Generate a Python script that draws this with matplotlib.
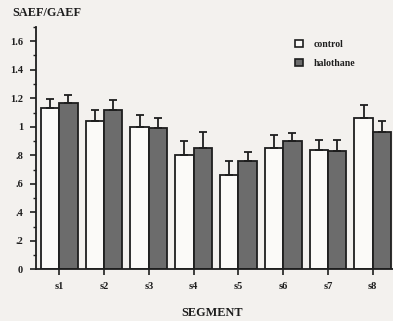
import numpy as np
import matplotlib
matplotlib.use("Agg")
import matplotlib.pyplot as plt
from matplotlib.patches import Rectangle
from matplotlib.ticker import MultipleLocator

segments = ["s1", "s2", "s3", "s4", "s5", "s6", "s7", "s8"]
control = [1.13, 1.04, 1.00, 0.80, 0.66, 0.85, 0.84, 1.06]
control_err = [0.065, 0.08, 0.08, 0.10, 0.10, 0.09, 0.07, 0.09]
halothane = [1.17, 1.115, 0.99, 0.85, 0.76, 0.90, 0.83, 0.96]
halothane_err = [0.05, 0.07, 0.07, 0.11, 0.06, 0.055, 0.08, 0.08]
ytick_vals = [0, 0.2, 0.4, 0.6, 0.8, 1.0, 1.2, 1.4, 1.6]
ytick_labels = ["0", ".2", ".4", ".6", ".8", "1", "1.2", "1.4", "1.6"]

bg = "#f3f1ee"
ink = "#1e1e1e"
dark_fill = "#6c6c6c"
font = dict(family="Liberation Serif", weight="bold")

fig = plt.figure(figsize=(3.93, 3.21), dpi=100, facecolor=bg)
ax = fig.add_axes([0.0908, 0.161, 1.0 - 0.0908, 0.916 - 0.161])
ax.set_facecolor(bg)

x = np.arange(len(segments))
w = 0.41
ekw = dict(ecolor=ink, elinewidth=1.3, capsize=2.8, capthick=1.3)
ax.bar(x - w / 2, control, width=w, color="#fbfaf8", edgecolor=ink, linewidth=1.3,
       yerr=[np.zeros(len(x)), control_err], error_kw=ekw, zorder=2)
ax.bar(x + w / 2, halothane, width=w, color=dark_fill, edgecolor=ink, linewidth=1.3,
       yerr=[np.zeros(len(x)), halothane_err], error_kw=ekw, zorder=2)

ax.set_xlim(-0.527, 7.453)
ax.set_ylim(0, 1.70)
for s in ["top", "right"]:
    ax.spines[s].set_visible(False)
ax.spines["left"].set_linewidth(1.3)
ax.spines["bottom"].set_linewidth(1.3)
ax.spines["left"].set_color(ink)
ax.spines["bottom"].set_color(ink)

ax.set_xticks(x)
ax.set_xticklabels(segments, fontsize=7.5, **font, color=ink)
ax.set_yticks(ytick_vals)
ax.set_yticklabels(ytick_labels, fontsize=7.5, **font, color=ink)
ax.yaxis.set_minor_locator(MultipleLocator(0.1))
ax.tick_params(axis="both", which="major", direction="out", length=4, width=1.2, color=ink, pad=5)
ax.tick_params(axis="y", which="minor", direction="out", length=2.5, width=1.0, color=ink)
ax.tick_params(axis="x", pad=5)

fig.text(12 / 393, 1 - 13 / 321, "SAEF/GAEF", fontsize=8.8, color=ink, va="center", ha="left", **font)
fig.text(212 / 393, 1 - 313 / 321, "SEGMENT", fontsize=8.8, color=ink, va="center", ha="center", **font)

handles = [Rectangle((0, 0), 1, 1, facecolor="#fbfaf8", edgecolor=ink, linewidth=1.2),
           Rectangle((0, 0), 1, 1, facecolor=dark_fill, edgecolor=ink, linewidth=1.2)]
leg = ax.legend(handles, ["control", "halothane"], loc="upper left",
                bbox_to_anchor=(286 / 393, 1 - 31 / 321), bbox_transform=fig.transFigure,
                frameon=False, handlelength=0.8, handleheight=0.8, handletextpad=1.1,
                labelspacing=1.0, prop=dict(family="Liberation Serif", weight="bold", size=7))
for t in leg.get_texts():
    t.set_color(ink)

fig.savefig("out.png", dpi=100, facecolor=bg)
